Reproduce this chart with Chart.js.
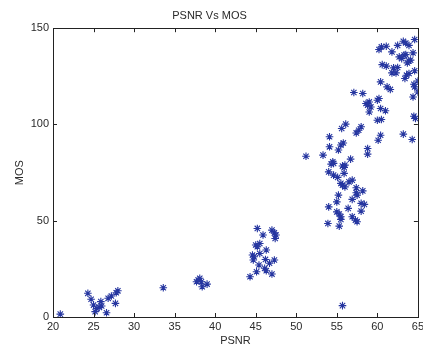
<!DOCTYPE html>
<html><head><meta charset="utf-8">
<script src="https://cdn.jsdelivr.net/npm/chart.js@4"></script>
<style>html,body{margin:0;padding:0;background:#fff}#c{display:block}</style>
</head><body>
<div style="width:423px;height:348px"><canvas id="c" width="423" height="348"></canvas></div>
<script>
const chartTitle = "PSNR Vs MOS";
const xLabel = "PSNR";
const yLabel = "MOS";
const xTicks = [20,25,30,35,40,45,50,55,60,65];
const yTicks = [0,50,100,150];
const psnr = [
 20.9,24.3,24.7,25.0,25.2,25.4,25.7,25.9,26.0,26.6,26.8,27.2,27.7,27.8,28.0,33.6,
 37.7,37.9,38.1,38.3,38.4,39.0,
 44.3,45.1,45.2,45.9,47.0,47.3,47.4,47.5,45.2,45.5,45.0,44.6,44.8,45.5,46.3,46.2,46.7,47.3,45.4,46.1,46.3,47.0,44.7,
 60.2,60.5,61.1,61.8,62.5,63.2,63.5,63.9,64.6,64.4,62.7,63.0,63.3,63.5,63.7,63.9,64.1,60.6,61.1,62.0,62.5,61.8,62.3,63.6,63.9,63.4,64.6,65.0,65.0,64.5,64.6,64.4,
 60.4,61.2,61.6,57.1,58.2,58.6,59.0,58.8,59.2,59.0,60.0,60.2,60.4,61.0,60.0,60.5,64.5,64.7,60.4,60.1,63.2,64.3,
 55.6,56.1,57.7,58.0,57.4,54.1,54.1,55.5,58.8,58.8,51.2,53.3,55.2,55.8,56.7,54.3,54.5,54.6,54.0,55.7,55.9,56.0,55.9,54.6,55.1,
 55.5,55.7,56.0,56.5,56.9,57.4,58.2,57.5,57.4,55.2,55.0,56.9,58.0,58.4,54.0,56.4,55.0,55.3,55.5,55.5,58.0,56.9,57.3,57.5,53.9,55.3,55.7
];
const mos = [
 1.5,12.3,9.2,6.2,2.8,4.5,5.0,8.0,5.7,2.2,9.7,10.9,7.1,12.6,13.6,15.2,
 18.3,19.2,20.1,18.3,15.7,17.1,
 20.9,23.5,46.0,42.6,45.1,43.7,40.8,42.6,36.5,38.2,37.4,32.2,31.3,33.0,34.8,29.9,27.9,29.6,27.0,25.3,24.0,22.3,29.6,
 138.9,140.3,140.6,137.7,141.1,143.2,142.3,141.1,144.1,137.2,135.1,134.2,136.0,136.3,132.0,133.0,133.4,131.1,130.3,129.4,129.6,126.8,126.8,125.6,126.5,123.9,127.9,122.6,116.9,120.9,119.5,114.3,
 122.1,119.5,118.2,116.6,116.1,110.9,111.7,110.0,109.1,106.5,112.6,113.5,108.3,107.1,102.2,102.6,104.3,103.1,94.4,91.8,95.0,92.2,
 97.9,100.2,97.0,98.8,95.6,93.6,88.4,89.3,87.5,84.6,83.5,84.1,86.7,90.4,82.0,79.4,80.6,79.8,75.4,78.4,77.7,78.9,74.6,73.7,72.5,
 69.4,68.5,67.6,70.2,71.1,67.1,65.5,63.3,64.5,63.3,59.8,61.1,59.0,58.5,57.2,56.4,54.6,53.5,52.1,50.7,55.0,52.1,50.3,49.5,48.6,47.2,5.9
];

const points = psnr.map((x, i) => ({x: x, y: mos[i]}));
const textColor = '#2a2a2a';
const font = {family: "'Liberation Sans', Arial, sans-serif", size: 11, weight: 'normal'};

const boxPlugin = {
  id: 'box',
  afterDatasetsDraw(chart) {
    const {ctx, chartArea: a, scales} = chart;
    ctx.save();
    ctx.strokeStyle = '#222';
    ctx.lineWidth = 1;
    ctx.strokeRect(Math.round(a.left) + 0.5, Math.round(a.top) + 0.5, Math.round(a.right - a.left), Math.round(a.bottom - a.top));
    const tl = 4;
    ctx.beginPath();
    xTicks.forEach(v => {
      const px = Math.round(scales.x.getPixelForValue(v)) + 0.5;
      ctx.moveTo(px, a.bottom); ctx.lineTo(px, a.bottom - tl);
      ctx.moveTo(px, a.top); ctx.lineTo(px, a.top + tl);
    });
    yTicks.forEach(v => {
      const py = Math.round(scales.y.getPixelForValue(v)) + 0.5;
      ctx.moveTo(a.left, py); ctx.lineTo(a.left + tl, py);
      ctx.moveTo(a.right, py); ctx.lineTo(a.right - tl, py);
    });
    ctx.stroke();
    ctx.restore();
  }
};

new Chart(document.getElementById('c'), {
  type: 'scatter',
  data: {datasets: [{
    data: points,
    pointStyle: 'star',
    radius: 3.8,
    borderColor: '#2636a0',
    backgroundColor: '#2636a0',
    borderWidth: 1.1
  }]},
  options: {
    responsive: false,
    animation: false,
    events: [],
    layout: {padding: {left: 0, right: 4, top: 0, bottom: 0}},
    plugins: {
      legend: {display: false},
      tooltip: {enabled: false},
      title: {display: true, text: chartTitle, color: textColor, font: font, padding: {top: 9, bottom: 6}}
    },
    scales: {
      x: {
        type: 'linear', min: 20, max: 65,
        afterBuildTicks: s => { s.ticks = xTicks.map(v => ({value: v})); },
        afterFit: s => { s.height = 31; s.paddingLeft = 0; s.paddingRight = 0; },
        grid: {display: false, drawTicks: false},
        border: {display: false},
        ticks: {color: textColor, font: font, padding: 3, maxRotation: 0, autoSkip: false},
        title: {display: true, text: xLabel, color: textColor, font: font, padding: {top: 0, bottom: 0}}
      },
      y: {
        type: 'linear', min: 0, max: 150,
        afterBuildTicks: s => { s.ticks = yTicks.map(v => ({value: v})); },
        afterFit: s => { s.width = 53; },
        grid: {display: false, drawTicks: false},
        border: {display: false},
        ticks: {color: textColor, font: font, padding: 4, autoSkip: false},
        title: {display: true, text: yLabel, color: textColor, font: font, padding: {top: 13, bottom: 0}}
      }
    }
  },
  plugins: [boxPlugin]
});
</script>
</body></html>
